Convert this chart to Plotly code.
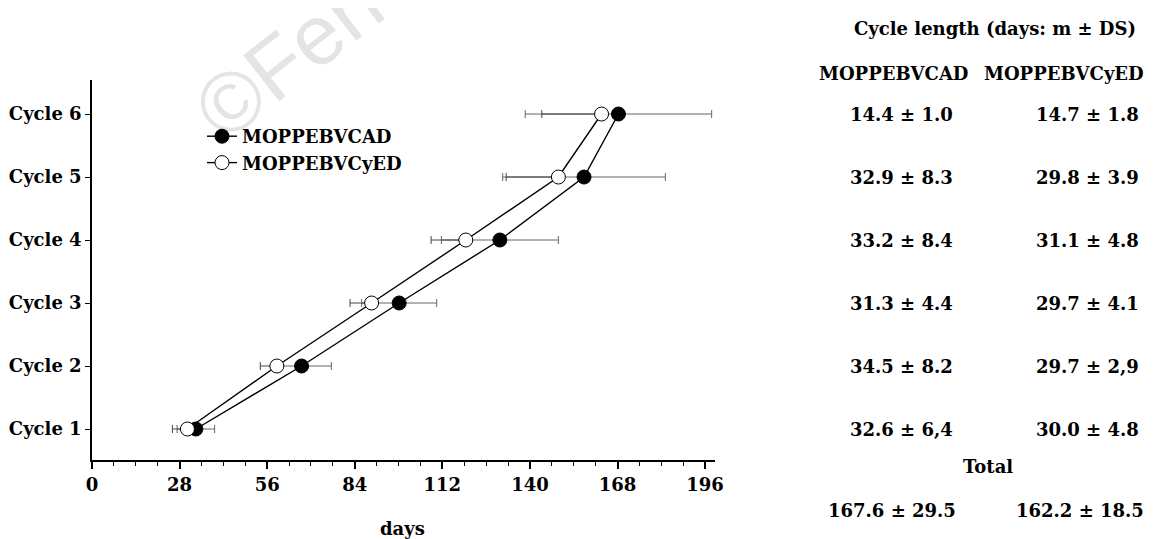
import plotly.graph_objects as go

# ---------------- data ----------------
cycles = [1, 2, 3, 4, 5, 6]
cycle_labels = ["Cycle 1", "Cycle 2", "Cycle 3", "Cycle 4", "Cycle 5", "Cycle 6"]

cad_days = [33.2, 67.0, 98.2, 130.4, 157.3, 168.3]
cad_sd = [6.0, 9.5, 12.0, 18.7, 26.0, 29.8]
cyed_days = [30.5, 59.1, 89.4, 119.5, 149.1, 162.9]
cyed_sd = [4.8, 5.3, 6.9, 11.1, 16.7, 19.1]
cyed_sd_plus = [0, 0, 0, 0, 0, 0]   # upper bars hidden in the original

x_ticks = [0, 28, 56, 84, 112, 140, 168, 196]

series_names = ["MOPPEBVCAD", "MOPPEBVCyED"]
table_title = "Cycle length (days: m ± DS)"
cad_lengths = ["32.6 ± 6,4", "34.5 ± 8.2", "31.3 ± 4.4", "33.2 ± 8.4", "32.9 ± 8.3", "14.4 ± 1.0"]
cyed_lengths = ["30.0 ± 4.8", "29.7 ± 2,9", "29.7 ± 4.1", "31.1 ± 4.8", "29.8 ± 3.9", "14.7 ± 1.8"]
total_label = "Total"
totals = ["167.6 ± 29.5", "162.2 ± 18.5"]
watermark = "©Ferrata Storti Foundation"

# ---------------- layout geometry (page has an 8px body margin) ----------------
OFF = 8
W, H = 1157 - OFF, 539 - OFF
X0, X1 = 92, 715      # plot area in page pixels
Y0, Y1 = 80, 460
L, T = X0 - OFF, Y0 - OFF
PW, PH = X1 - X0, Y1 - Y0
R, B = W - L - PW, H - T - PH

def px(xp):
    return (xp - X0) / PW

def py(yp):
    return (Y1 - yp) / PH

FONT = "DejaVu Serif"
black = "#000000"
def bf(size):
    return dict(family=FONT, size=size, color=black, weight="bold")

fig = go.Figure()

# error bars first (below lines/markers)
fig.add_trace(go.Scatter(
    x=cad_days, y=cycles, mode="markers",
    marker=dict(size=1, opacity=0),
    error_x=dict(type="data", array=cad_sd, visible=True, color="#666666",
                 thickness=1, width=4),
    showlegend=False, hoverinfo="skip"))
fig.add_trace(go.Scatter(
    x=cyed_days, y=cycles, mode="markers",
    marker=dict(size=1, opacity=0),
    error_x=dict(type="data", symmetric=False, array=cyed_sd_plus, arrayminus=cyed_sd,
                 visible=True, color="#444444", thickness=1, width=4),
    showlegend=False, hoverinfo="skip"))

fig.add_trace(go.Scatter(
    x=cad_days, y=cycles, mode="lines+markers", name=series_names[0],
    line=dict(color=black, width=1.4),
    marker=dict(symbol="circle", size=14, color=black,
                line=dict(color=black, width=1))))
fig.add_trace(go.Scatter(
    x=cyed_days, y=cycles, mode="lines+markers", name=series_names[1],
    line=dict(color=black, width=1.4),
    marker=dict(symbol="circle", size=14, color="white",
                line=dict(color=black, width=1))))

TS = 18
ann = []
def add_text(text, x, y, yref="paper", size=TS):
    ann.append(dict(text=text, x=x, y=y, xref="paper", yref=yref,
                    showarrow=False, xanchor="center", yanchor="middle",
                    font=bf(size)))

# watermark (semi-transparent so marks beneath stay visible)
ann.append(dict(text=watermark, x=px(603), y=py(-190), xref="paper", yref="paper",
                showarrow=False, xanchor="center", yanchor="middle", textangle=-38,
                font=dict(family="Liberation Sans", size=85, color="rgba(0,0,0,0.105)",
                          weight="normal")))
# table
add_text(table_title, px(995), py(28))
add_text(series_names[0], px(893), py(73))
add_text(series_names[1], px(1064), py(73))
for c, a, b in zip(cycles, cad_lengths, cyed_lengths):
    add_text(a, px(901), c, yref="y")
    add_text(b, px(1087), c, yref="y")
add_text(total_label, px(988), py(466))
add_text(totals[0], px(892), py(510))
add_text(totals[1], px(1080), py(510))
# x axis title
add_text("days", px(402), py(528))

fig.update_layout(
    width=W, height=H,
    margin=dict(l=L, r=R, t=T, b=B, pad=0, autoexpand=False),
    paper_bgcolor="white", plot_bgcolor="white",
    font=bf(TS),
    showlegend=True,
    legend=dict(x=px(202), y=py(118), xanchor="left", yanchor="top",
                bgcolor="rgba(0,0,0,0)", borderwidth=0,
                font=bf(TS), tracegroupgap=0),
    annotations=ann,
)
fig.update_xaxes(
    range=[0, PW / 3.128], tickmode="array", tickvals=x_ticks,
    ticks="outside", ticklen=7, tickwidth=1.5, tickcolor=black,
    showline=True, linecolor=black, linewidth=1.5, mirror=False,
    showgrid=False, zeroline=False, ticklabelstandoff=1, automargin=False,
    tickfont=bf(TS),
    minor=dict(tickmode="linear", tick0=0, dtick=7, ticks="outside", ticklen=4,
               tickwidth=1, tickcolor=black, showgrid=False),
)
fig.update_yaxes(
    range=[0.508, 6.54], tickmode="array", tickvals=cycles, ticktext=cycle_labels,
    ticks="outside", ticklen=5, tickwidth=1.2, tickcolor=black,
    showline=True, linecolor=black, linewidth=1.5, mirror=False,
    showgrid=False, zeroline=False, automargin=False,
    tickfont=bf(TS),
)

fig.write_html("out.html")
